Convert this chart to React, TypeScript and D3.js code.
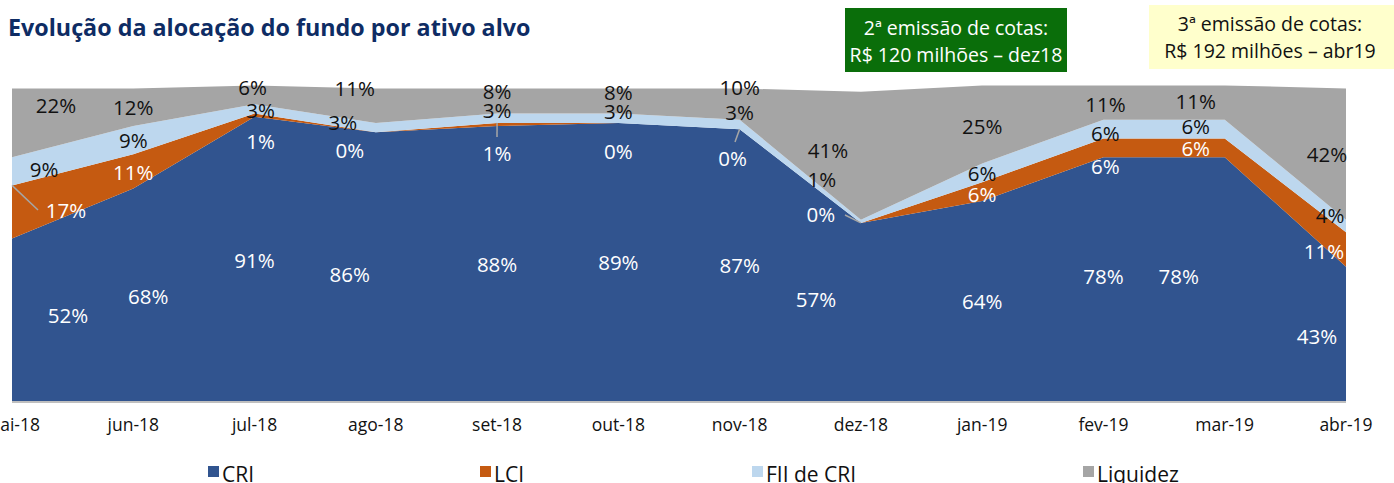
import React from "react";
import * as d3 from "d3";

const months = ["mai-18", "jun-18", "jul-18", "ago-18", "set-18", "out-18", "nov-18", "dez-18", "jan-19", "fev-19", "mar-19", "abr-19"];
const cri = [52, 68, 91, 86, 88, 89, 87, 57, 64, 78, 78, 43];
const lci = [17, 11, 1, 0, 1, 0, 0, 0, 6, 6, 6, 11];
const fii = [9, 9, 3, 3, 3, 3, 3, 1, 6, 6, 6, 4];
const liquidez = [22, 12, 6, 11, 8, 8, 10, 41, 25, 11, 11, 42];

const seriesNames = ["CRI", "LCI", "FII de CRI", "Liquidez"];
const seriesColors = ["#31548F", "#C55A11", "#BDD7EE", "#A5A5A5"];
const labelColors = ["#FFFFFF", "#FFFFFF", "#111111", "#111111"];

// manual label nudges (px) relative to segment midpoint, [dx, dy] per series per month
const nudges: [number, number][][] = [
  [[56, -5], [15, 1], [0, 1], [-26, 7], [0, 0], [0, 0], [0, 0], [-45, -13], [0, 0], [0, -3], [-46, -3], [-29, 2]],
  [[54, -2], [0, 1], [6, 26], [-26, 18], [0, 29], [0, 28], [-7, 29], [-40, -9], [0, 2], [2, 18], [-29, 0], [-22, 2]],
  [[32, -2], [0, 0], [6, 1], [-33, -6], [0, -8], [0, -7], [0, -12], [-39, -42], [0, 0], [2, 4], [-29, -3], [-16, -11]],
  [[44, -18], [0, 0], [-2, -8], [-21, -18], [0, -10], [0, -9], [0, -17], [-33, -6], [0, 2], [2, 1], [-29, -2], [-19, 0]],
];

const W = 1394;
const H = 483;
const FONT = "'Segoe UI', 'Open Sans', 'Noto Sans', sans-serif";

export default function App() {
  const x = d3.scalePoint<string>().domain(months).range([12, 1346]);
  const y = d3.scaleLinear().domain([0, 100]).range([401, 88.5]);

  const rows = months.map((m, i) => ({ m, s0: cri[i], s1: lci[i], s2: fii[i], s3: liquidez[i] }));
  const stack = d3.stack<any>().keys(["s0", "s1", "s2", "s3"]);
  const stacked = stack(rows);

  const area = d3
    .area<any>()
    .x((d) => x(d.data.m) as number)
    .y0((d) => y(d[0]))
    .y1((d) => y(d[1]));

  const legendX = [208, 480, 752, 1083];

  const labels: any[] = [];
  stacked.forEach((layer, si) => {
    layer.forEach((d, i) => {
      const mid = (d[0] + d[1]) / 2;
      const [dx, dy] = nudges[si][i];
      labels.push({
        key: `${si}-${i}`,
        x: (x(months[i]) as number) + dx,
        y: y(mid) + dy,
        text: `${[cri, lci, fii, liquidez][si][i]}%`,
        color: labelColors[si],
      });
    });
  });

  // leader lines (label -> point)
  const leaders = [
    { si: 1, i: 0, lx: 38, ly: 210 },
    { si: 1, i: 4, lx: 497, ly: 137 },
    { si: 1, i: 6, lx: 735, ly: 142 },
    { si: 1, i: 7, lx: 845, ly: 215 },
  ];

  return (
    <svg width={W} height={H} style={{ position: "absolute", left: 0, top: 0, background: "#fff" }} fontFamily={FONT}>
      <text x={8} y={36} fontSize={23.3} fontWeight={700} fill="#0E2C64" fontFamily={FONT}>
        Evolução da alocação do fundo por ativo alvo
      </text>

      {/* emission boxes */}
      <rect x={845} y={8} width={222} height={64} fill="#0A6E0A" />
      <text x={956} y={35} textAnchor="middle" fontSize={19.5} fill="#fff">2ª emissão de cotas:</text>
      <text x={956} y={62} textAnchor="middle" fontSize={19.5} fill="#fff">R$ 120 milhões – dez18</text>

      <rect x={1149} y={5} width={245} height={64} fill="#FFFFCC" />
      <text x={1270} y={31} textAnchor="middle" fontSize={19.5} fill="#111">3ª emissão de cotas:</text>
      <text x={1270} y={58} textAnchor="middle" fontSize={19.5} fill="#111">R$ 192 milhões – abr19</text>

      {/* areas */}
      {stacked.map((layer, si) => (
        <path key={si} d={area(layer) as string} fill={seriesColors[si]} />
      ))}
      <line x1={12} x2={1346} y1={402} y2={402} stroke="#BFBFBF" strokeWidth={2} />

      {/* leader lines */}
      {leaders.map((l, k) => {
        const d = stacked[l.si][l.i];
        return (
          <line key={k} x1={l.lx} y1={l.ly} x2={x(months[l.i]) as number} y2={y(d[1])} stroke="#A6A6A6" strokeWidth={1.5} />
        );
      })}

      {/* data labels */}
      {labels.map((l) => (
        <text key={l.key} x={l.x} y={l.y} textAnchor="middle" dominantBaseline="central" fontSize={20.5} fill={l.color}>
          {l.text}
        </text>
      ))}

      {/* x axis labels */}
      {months.map((m) => (
        <text key={m} x={x(m) as number} y={431} textAnchor="middle" fontSize={17.5} fill="#111">
          {m}
        </text>
      ))}

      {/* legend */}
      {seriesNames.map((n, i) => (
        <g key={n}>
          <rect x={legendX[i]} y={466} width={11} height={11} fill={seriesColors[i]} />
          <text x={legendX[i] + 14} y={482} fontSize={21} fill="#111">{n}</text>
        </g>
      ))}
    </svg>
  );
}
